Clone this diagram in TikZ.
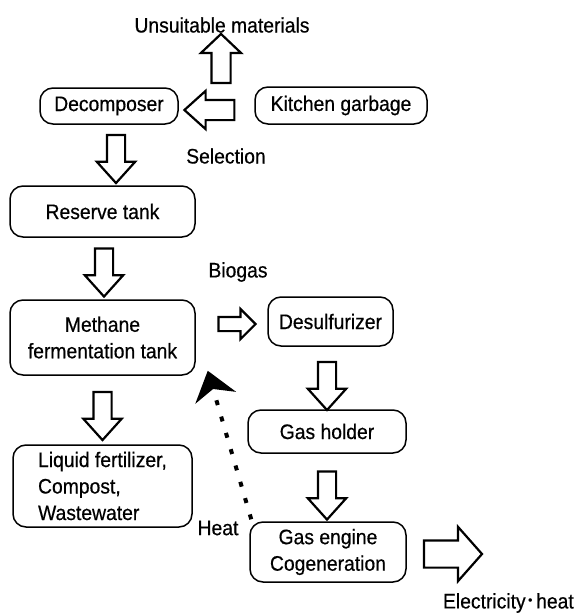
\documentclass[tikz,border=0pt]{standalone}
\usepackage{fontspec}
\setmainfont{Liberation Sans}[FakeStretch=0.92,FakeBold=0.5]
\newfontfamily\jpfont{Noto Sans CJK JP}
\usetikzlibrary{shapes.arrows,arrows.meta,calc}
\tikzset{
  box/.style={draw, line width=1.5pt, rounded corners=13pt, fill=white, inner sep=0pt, align=center, font=\fontsize{21}{26.5}\selectfont},
  lbl/.style={inner sep=0pt, font=\fontsize{21}{26}\selectfont},
  barrow/.style={single arrow, draw, line width=2.2pt, fill=white, inner xsep=0pt, outer sep=0pt},
  dnarrow/.style={barrow, rotate=-90, inner ysep=8pt, single arrow head extend=10pt, single arrow tip angle=84, minimum height=48pt},
}
\begin{document}
\begin{tikzpicture}[x=1pt,y=-1pt]
\useasboundingbox (0,0) rectangle (575,614);
% boxes
\node[box, minimum width=138pt, minimum height=36pt] (dec) at (109,106) {Decomposer};
\node[box, minimum width=172pt, minimum height=37pt] (kg) at (341,105.5) {Kitchen garbage};
\node[box, minimum width=185pt, minimum height=51pt] (rt) at (102.5,211.5) {Reserve tank};
\node[box, minimum width=185pt, minimum height=75pt] (mt) at (102.5,337.5) {Methane\\fermentation tank};
\node[box, minimum width=125pt, minimum height=49pt] (ds) at (330.5,321.5) {Desulfurizer};
\node[box, minimum width=158pt, minimum height=43pt] (gh) at (327,431.5) {Gas holder};
\node[box, minimum width=156pt, minimum height=60pt] (ge) at (328,552) {Gas engine\\Cogeneration};
\node[box, minimum width=179pt, minimum height=82pt, align=left] (lf) at (102.5,486) {Liquid fertilizer,\\Compost,\\Wastewater};
% labels
\node[lbl] (um) at (222,25) {Unsuitable materials};
\node[lbl] (sel) at (226,156) {Selection};
\node[lbl] (bio) at (238,272) {Biogas};
\node[lbl] (heat) at (218,528) {Heat};
\node[lbl, anchor=east] (eh) at (574,603) {Electricity{\jpfont ･}heat};
% block arrows
\node[barrow, rotate=90, inner ysep=8.5pt, single arrow head extend=10.5pt, single arrow tip angle=93, minimum height=49pt] (a0) at (221,63) {};
\node[barrow, rotate=180, inner ysep=9pt, single arrow head extend=9pt, single arrow tip angle=84, minimum height=50pt] (a1) at (215,110) {};
\node[dnarrow] (a2) at (116,154) {};
\node[dnarrow] (a3) at (104,267.5) {};
\node[dnarrow] (a4) at (102.5,411) {};
\node[dnarrow] (a5) at (327,381) {};
\node[dnarrow] (a6) at (327,490.5) {};
\node[barrow, inner ysep=6pt, single arrow head extend=8pt, single arrow tip angle=90, minimum height=37pt] (a7) at (233.5,324) {};
\node[barrow, inner ysep=12.5pt, single arrow head extend=13.5pt, single arrow tip angle=97, minimum height=58pt] (a8) at (447,554) {};
% heat return
\coordinate (hs) at ($(ge.north west)+(2,-2)$);
\coordinate (ht) at ($(mt.south east)+(12,-5)$);
\draw[line width=4pt, dash pattern=on 5pt off 12pt, -{Stealth[length=28pt,width=42pt,inset=9pt]}] (hs) -- (ht);
\end{tikzpicture}
\end{document}
